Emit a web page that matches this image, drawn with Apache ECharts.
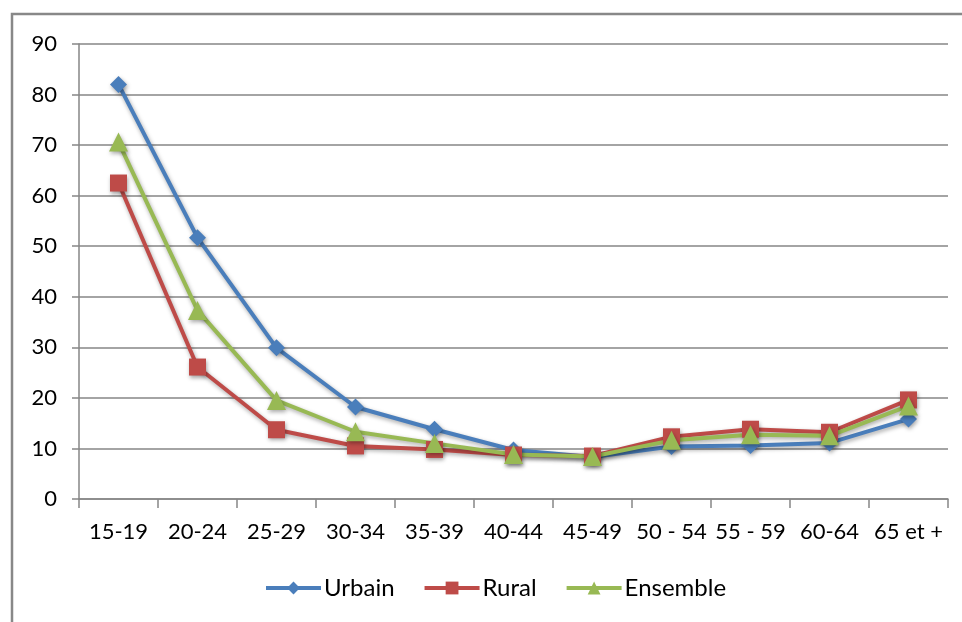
<!DOCTYPE html>
<html>
<head>
<meta charset="utf-8">
<script src="https://cdn.jsdelivr.net/npm/echarts@6/dist/echarts.min.js"></script>
<style>
  html, body { margin: 0; padding: 0; background: #fff; }
  #chart { width: 962px; height: 622px; }
</style>
</head>
<body>
<div id="chart"></div>
<script>
// Age groups along the x axis
const ageGroups = ['15-19', '20-24', '25-29', '30-34', '35-39', '40-44', '45-49', '50 - 54', '55 - 59', '60-64', '65 et +'];

// Rates by place of residence
const urbain   = [82.0, 51.7, 29.9, 18.2, 13.8, 9.7, 8.3, 10.4, 10.6, 11.1, 15.8];
const rural    = [62.5, 26.1, 13.7, 10.5, 9.8, 8.7, 8.5, 12.3, 13.8, 13.2, 19.6];
const ensemble = [70.6, 37.3, 19.5, 13.3, 11.0, 8.8, 8.4, 11.6, 12.7, 12.5, 18.4];

// Y axis range and step
const yMin = 0, yMax = 90, yStep = 10;

const FONT = 'Lato, "Open Sans", sans-serif';
const GRID_COLOR = '#868686';

const chart = echarts.init(document.getElementById('chart'), null, { renderer: 'canvas' });

function lineSeries(name, data, color, symbol, size) {
  return {
    name: name,
    type: 'line',
    data: data,
    symbol: symbol,
    symbolSize: size,
    showAllSymbol: true,
    lineStyle: { color: color, width: 4, shadowColor: 'rgba(0,0,0,0.35)', shadowBlur: 4, shadowOffsetX: 1, shadowOffsetY: 2 },
    itemStyle: { color: color, shadowColor: 'rgba(0,0,0,0.35)', shadowBlur: 4, shadowOffsetX: 1, shadowOffsetY: 2 },
    emphasis: { disabled: true },
    animation: false
  };
}

chart.setOption({
  animation: false,
  backgroundColor: '#fff',
  graphic: [{
    type: 'rect',
    shape: { x: 12, y: 14, width: 980, height: 640 },
    style: { fill: 'none', stroke: '#888', lineWidth: 2.5 },
    silent: true
  }],
  grid: { left: 79, right: 14, top: 44, bottom: 123, containLabel: false },
  legend: {
    bottom: 17,
    left: 259,
    itemWidth: 55,
    itemHeight: 16,
    itemGap: 28,
    lineStyle: { width: 4, shadowBlur: 0, shadowOffsetX: 0, shadowOffsetY: 0 },
    itemStyle: { shadowBlur: 0, shadowOffsetX: 0, shadowOffsetY: 0 },
    textStyle: { fontFamily: FONT, fontSize: 24, color: '#000', padding: [0, 0, 0, -2] },
    data: ['Urbain', 'Rural', 'Ensemble']
  },
  xAxis: {
    type: 'category',
    data: ageGroups,
    boundaryGap: true,
    axisLine: { lineStyle: { color: GRID_COLOR, width: 1.5 } },
    axisTick: { show: true, length: 9, lineStyle: { color: GRID_COLOR, width: 1.5 } },
    axisLabel: { fontFamily: FONT, fontSize: 22, color: '#000', margin: 22, interval: 0 }
  },
  yAxis: {
    type: 'value',
    min: yMin,
    max: yMax,
    interval: yStep,
    axisLine: { show: true, lineStyle: { color: GRID_COLOR, width: 1.5 } },
    axisTick: { show: true, length: 7, lineStyle: { color: GRID_COLOR, width: 1.5 } },
    axisLabel: { fontFamily: FONT, fontSize: 22, color: '#000', margin: 22 },
    splitLine: { lineStyle: { color: GRID_COLOR, width: 1.5 } }
  },
  series: [
    lineSeries('Urbain', urbain, '#4a7ebb', 'diamond', 17),
    lineSeries('Rural', rural, '#be4b48', 'rect', 17),
    lineSeries('Ensemble', ensemble, '#98b954', 'triangle', 19)
  ]
});
</script>
</body>
</html>
